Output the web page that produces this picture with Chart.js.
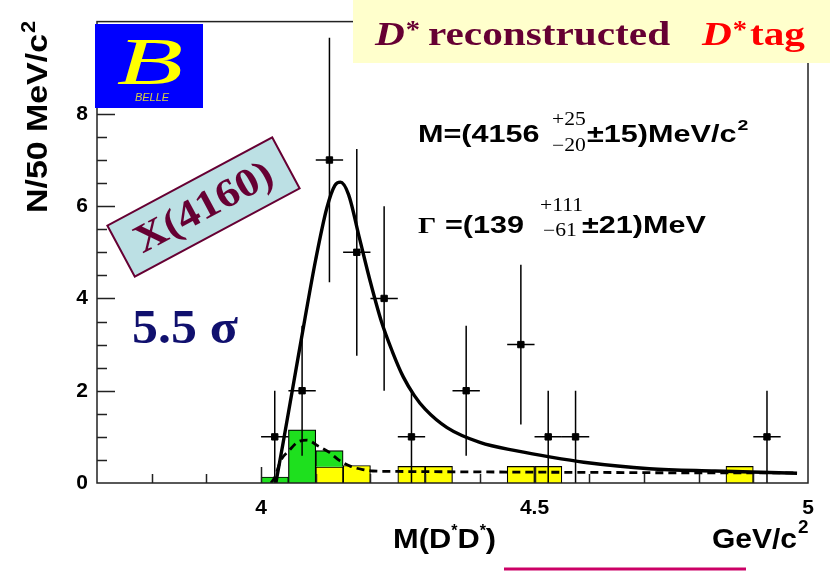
<!DOCTYPE html>
<html>
<head>
<meta charset="utf-8">
<script src="https://cdn.jsdelivr.net/npm/chart.js@4.4.1/dist/chart.umd.min.js"></script>
<style>
  body { margin: 0; background: #fff; }
  #wrap { width: 830px; height: 571px; }
</style>
</head>
<body>
<div id="wrap"><canvas id="myChart" width="830" height="571"></canvas></div>
<script>
// measured points, 50 MeV bins
const binCenters = [4.025, 4.075, 4.125, 4.175, 4.225, 4.275, 4.375, 4.475, 4.525, 4.575, 4.925];
const counts = [1, 2, 7, 5, 4, 1, 2, 3, 1, 1, 1];
const errDown = [1.0, 1.41, 2.65, 2.24, 2.0, 1.0, 1.41, 1.73, 1.0, 1.0, 1.0];
const errUp = [1.0, 1.41, 2.65, 2.24, 2.0, 1.0, 1.41, 1.73, 1.0, 1.0, 1.0];
const halfBin = 0.025;

// green histogram (floating on top of the yellow one)
const greenX = [4.025, 4.075, 4.125];
const greenLow = [0, 0, 0.35];
const greenHigh = [0.13, 1.15, 0.70];

// yellow histogram
const yellowX = [4.125, 4.175, 4.275, 4.325, 4.475, 4.525, 4.875];
const yellowY = [0.35, 0.38, 0.36, 0.36, 0.36, 0.36, 0.36];

// fit: signal + background
const sigX = [4.027, 4.04, 4.06, 4.08, 4.10, 4.12, 4.135, 4.145, 4.16, 4.18, 4.20, 4.22, 4.24, 4.26, 4.28, 4.30, 4.34, 4.40, 4.47, 4.53, 4.59, 4.71, 4.83, 4.98];
const sigY = [0, 0.85, 2.2, 3.55, 4.85, 5.95, 6.45, 6.52, 6.25, 5.3, 4.35, 3.5, 2.85, 2.3, 1.9, 1.6, 1.2, 0.88, 0.69, 0.56, 0.45, 0.31, 0.26, 0.21];

// fit: background only
const bkgX = [4.018, 4.025, 4.036, 4.051, 4.066, 4.084, 4.103, 4.124, 4.143, 4.164, 4.186, 4.204, 4.25, 4.4, 4.6, 4.8, 4.98];
const bkgY = [0, 0.12, 0.49, 0.70, 0.88, 0.93, 0.81, 0.67, 0.49, 0.36, 0.29, 0.26, 0.25, 0.24, 0.23, 0.22, 0.22];

const xTickValues = [4, 4.5, 5];
const yTickValues = [0, 2, 4, 6, 8];

const SANS = '"Liberation Sans", Arial, sans-serif';
const SERIF = '"Liberation Serif", "Times New Roman", serif';
const MAROON = '#660033';

function pts(xs, ys) {
    let out = [];
    for (let i = 0; i < xs.length; i++) out.push({ x: xs[i], y: ys[i] });
    return out;
}

// draw text with a horizontal stretch, return the width used
function txt(ctx, s, x, y, font, color, sx) {
    ctx.save();
    ctx.font = font;
    ctx.fillStyle = color;
    ctx.textAlign = 'left';
    ctx.textBaseline = 'alphabetic';
    ctx.translate(x, y);
    ctx.scale(sx || 1, 1);
    ctx.fillText(s, 0, 0);
    let w = ctx.measureText(s).width * (sx || 1);
    ctx.restore();
    return w;
}

const decor = {
    id: 'decor',
    beforeDraw(chart) {
        const ctx = chart.ctx;
        ctx.save();
        ctx.fillStyle = '#fff';
        ctx.fillRect(0, 0, chart.width, chart.height);
        ctx.restore();
    },
    afterDatasetsDraw(chart) {
        const ctx = chart.ctx;
        const xs = chart.scales.x, ys = chart.scales.y;
        ctx.save();
        ctx.strokeStyle = '#000';
        ctx.lineWidth = 1.5;
        for (let i = 0; i < binCenters.length; i++) {
            let px = xs.getPixelForValue(binCenters[i]);
            let py = ys.getPixelForValue(counts[i]);
            ctx.beginPath();
            ctx.moveTo(px, ys.getPixelForValue(counts[i] - errDown[i]));
            ctx.lineTo(px, ys.getPixelForValue(counts[i] + errUp[i]));
            ctx.moveTo(xs.getPixelForValue(binCenters[i] - halfBin), py);
            ctx.lineTo(xs.getPixelForValue(binCenters[i] + halfBin), py);
            ctx.stroke();
        }
        ctx.restore();
    },
    afterDraw(chart) {
        const ctx = chart.ctx;
        const a = chart.chartArea;
        const xs = chart.scales.x, ys = chart.scales.y;

        // frame + inner ticks
        ctx.save();
        ctx.strokeStyle = '#222';
        ctx.lineWidth = 1.5;
        ctx.strokeRect(a.left, a.top, a.right - a.left, a.bottom - a.top);
        ctx.beginPath();
        for (let v = 0.5; v < 10; v += 0.5) {
            let py = Math.round(ys.getPixelForValue(v)) + 0.5;
            let len = (v % 2 === 0) ? 18 : 10;
            ctx.moveTo(a.left, py);
            ctx.lineTo(a.left + len, py);
        }
        for (let k = 38; k < 50; k++) {
            let v = k / 10;
            let px = Math.round(xs.getPixelForValue(v)) + 0.5;
            let len = (k === 40 || k === 45) ? 16 : 9;
            ctx.moveTo(px, a.bottom);
            ctx.lineTo(px, a.bottom - len);
        }
        ctx.stroke();
        ctx.restore();

        // title box
        ctx.save();
        ctx.fillStyle = '#FFFFCC';
        ctx.fillRect(353, 0, 477, 63);
        ctx.restore();
        let x = 375;
        x += txt(ctx, 'D', x, 45, 'italic bold 33px ' + SERIF, MAROON, 1.25);
        txt(ctx, '*', x + 1, 38, 'bold 26px ' + SERIF, MAROON, 1.1);
        txt(ctx, 'reconstructed', 428, 45, 'bold 33px ' + SERIF, MAROON, 1.25);
        x = 702;
        x += txt(ctx, 'D', x, 45, 'italic bold 33px ' + SERIF, '#FF0000', 1.25);
        txt(ctx, '*', x + 1, 38, 'bold 26px ' + SERIF, '#FF0000', 1.1);
        txt(ctx, 'tag', 750, 45, 'bold 33px ' + SERIF, '#FF0000', 1.25);

        // Belle logo
        ctx.save();
        ctx.fillStyle = '#0000FF';
        ctx.fillRect(95, 24, 108, 84);
        ctx.translate(150, 84);
        ctx.scale(1.6, 1);
        ctx.fillStyle = '#FFFF00';
        ctx.font = 'italic 68px ' + SERIF;
        ctx.textAlign = 'center';
        ctx.fillText('B', 0, 0);
        ctx.restore();
        ctx.save();
        ctx.fillStyle = '#D8D040';
        ctx.font = 'italic 11px ' + SANS;
        ctx.textAlign = 'center';
        ctx.fillText('BELLE', 152, 101);
        ctx.restore();

        // y axis title
        ctx.save();
        ctx.translate(47, 213);
        ctx.rotate(-Math.PI / 2);
        let w = txt(ctx, 'N/50 MeV/c', 0, 0, 'bold 30px ' + SANS, '#000', 1.13);
        txt(ctx, '2', w + 1, -12, 'bold 20px ' + SANS, '#000', 1.1);
        ctx.restore();

        // x axis title
        x = 393;
        x += txt(ctx, 'M(D', x, 548, 'bold 28px ' + SANS, '#000', 1.1);
        x += txt(ctx, '*', x, 536, 'bold 16px ' + SANS, '#000', 1);
        x += txt(ctx, 'D', x, 548, 'bold 28px ' + SANS, '#000', 1.1);
        x += txt(ctx, '*', x, 536, 'bold 16px ' + SANS, '#000', 1);
        txt(ctx, ')', x, 548, 'bold 28px ' + SANS, '#000', 1.1);
        x = 712;
        x += txt(ctx, 'GeV/c', x, 548, 'bold 28px ' + SANS, '#000', 1.07);
        txt(ctx, '2', x + 1, 533, 'bold 18px ' + SANS, '#000', 1.05);
        ctx.save();
        ctx.strokeStyle = '#CC0066';
        ctx.lineWidth = 3;
        ctx.beginPath();
        ctx.moveTo(504, 569);
        ctx.lineTo(746, 569);
        ctx.stroke();
        ctx.restore();

        // fit results
        txt(ctx, 'M=(4156', 418, 142, 'bold 23px ' + SANS, '#000', 1.33);
        txt(ctx, '+25', 552, 125, '18px ' + SERIF, '#000', 1.2);
        txt(ctx, '\u221220', 552, 151, '18px ' + SERIF, '#000', 1.2);
        x = 587;
        x += txt(ctx, '\u00B115)MeV/c', x, 142, 'bold 23px ' + SANS, '#000', 1.33);
        txt(ctx, '2', x + 1, 130, 'bold 15px ' + SANS, '#000', 1.3);

        txt(ctx, '\u0393', 418, 233, 'bold 24px ' + SERIF, '#000', 1.2);
        txt(ctx, '=(139', 445, 233, 'bold 23px ' + SANS, '#000', 1.33);
        txt(ctx, '+111', 540, 211, '18px ' + SERIF, '#000', 1.2);
        txt(ctx, '\u221261', 543, 236, '18px ' + SERIF, '#000', 1.2);
        txt(ctx, '\u00B121)MeV', 582, 233, 'bold 23px ' + SANS, '#000', 1.33);

        // X(4160) label
        ctx.save();
        ctx.translate(203.5, 207);
        ctx.rotate(-0.492);
        ctx.fillStyle = '#BCE0E4';
        ctx.strokeStyle = MAROON;
        ctx.lineWidth = 2;
        ctx.fillRect(-93.5, -29, 187, 58);
        ctx.strokeRect(-93.5, -29, 187, 58);
        ctx.scale(1.12, 1);
        ctx.fillStyle = MAROON;
        ctx.font = 'bold 40px ' + SERIF;
        ctx.textAlign = 'center';
        ctx.textBaseline = 'middle';
        ctx.fillText('X(4160)', 0, 2);
        ctx.restore();

        // significance
        txt(ctx, '5.5 \u03C3', 132, 343, 'bold 48px ' + SERIF, '#10106E', 1.08);
    }
};

const ctx = document.getElementById('myChart');

new Chart(ctx, {
    type: 'scatter',
    data: {
        datasets: [
            {
                type: 'bar',
                label: 'green',
                data: greenX.map((v, i) => ({ x: v, y: [greenLow[i], greenHigh[i]] })),
                backgroundColor: '#1EE01E',
                borderColor: '#000',
                borderWidth: 1.2,
                barPercentage: 1,
                categoryPercentage: 1,
                grouped: false,
                order: 3
            },
            {
                type: 'bar',
                label: 'yellow',
                data: pts(yellowX, yellowY),
                backgroundColor: '#FFFF00',
                borderColor: '#000',
                borderWidth: 1.2,
                barPercentage: 1,
                categoryPercentage: 1,
                grouped: false,
                order: 4
            },
            {
                type: 'line',
                label: 'background',
                data: pts(bkgX, bkgY),
                borderColor: '#000',
                borderWidth: 2.8,
                borderDash: [8, 5],
                pointRadius: 0,
                cubicInterpolationMode: 'monotone',
                fill: false,
                order: 2
            },
            {
                type: 'line',
                label: 'fit',
                data: pts(sigX, sigY),
                borderColor: '#000',
                borderWidth: 3.4,
                pointRadius: 0,
                cubicInterpolationMode: 'monotone',
                fill: false,
                order: 1
            },
            {
                type: 'scatter',
                label: 'data',
                data: pts(binCenters, counts),
                pointStyle: 'rect',
                pointRadius: 4.5,
                backgroundColor: '#000',
                borderColor: '#000',
                order: 0
            }
        ]
    },
    options: {
        responsive: false,
        animation: false,
        devicePixelRatio: 1,
        layout: { padding: { left: 0, top: 13, right: 22, bottom: 0 } },
        plugins: {
            legend: { display: false },
            tooltip: { enabled: false }
        },
        scales: {
            x: {
                type: 'linear',
                min: 3.7,
                max: 5,
                offset: false,
                grid: { display: false, drawTicks: false },
                border: { display: false },
                afterBuildTicks: s => { s.ticks = xTickValues.map(v => ({ value: v })); },
                afterFit: s => { s.height = 88; },
                ticks: {
                    padding: 13,
                    color: '#000',
                    maxRotation: 0,
                    font: { family: SANS, size: 21, weight: 'bold' },
                    callback: v => String(v)
                }
            },
            y: {
                type: 'linear',
                min: 0,
                max: 10,
                grid: { display: false, drawTicks: false },
                border: { display: false },
                afterBuildTicks: s => { s.ticks = yTickValues.map(v => ({ value: v })); },
                afterFit: s => { s.width = 97; },
                ticks: {
                    padding: 9,
                    color: '#000',
                    font: { family: SANS, size: 21, weight: 'bold' },
                    callback: v => String(v)
                }
            }
        }
    },
    plugins: [decor]
});
</script>
</body>
</html>
